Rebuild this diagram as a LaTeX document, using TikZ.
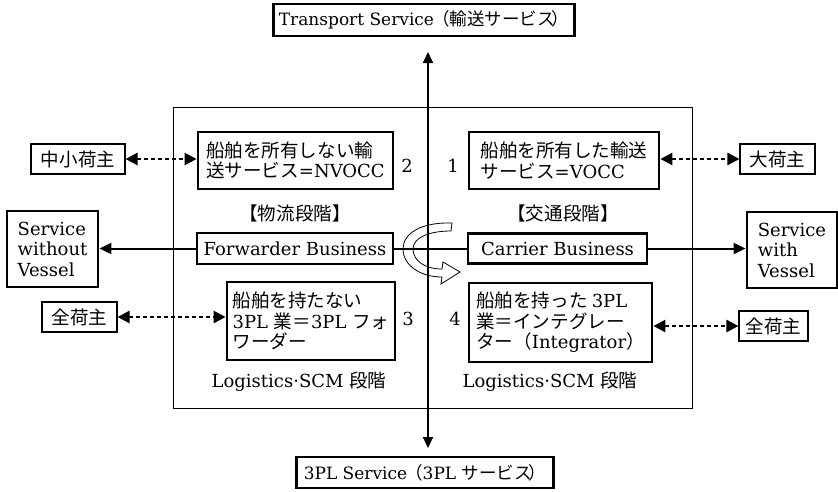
\documentclass[tikz,border=0pt]{standalone}
\usepackage{fontspec}
\setmainfont{DejaVu Serif}
\newfontfamily\jp[Scale=1.03]{Noto Sans CJK JP}
\usetikzlibrary{arrows.meta}
\begin{document}
\begin{tikzpicture}[x=1pt,y=-1pt,
  every node/.style={font=\fontsize{18}{20.5}\selectfont, inner sep=0pt},
  heavybox/.style={draw, line width=2.8pt, align=left},
  lightbox/.style={draw, line width=1.1pt},
  titlebox/.style={heavybox, font=\fontsize{17}{20}\selectfont, inner xsep=5pt},
  dotarrow/.style={{Triangle[length=12pt,width=12pt]}-{Triangle[length=12pt,width=12pt]},
    line width=2.6pt, dash pattern=on 4pt off 3pt},
  solidarrow/.style={-{Triangle[length=12pt,width=11pt]}, line width=2pt},
  axisarrow/.style={{Triangle[length=11pt,width=10pt]}-{Triangle[length=11pt,width=10pt]}, line width=2pt}]
\useasboundingbox (0,0) rectangle (838,491);

% outer frame
\draw[line width=0.9pt] (173,107) rectangle (692,408);

% top and bottom services
\node[titlebox, minimum height=32pt] (tsvc) at (424,20)
  {Transport Service\hspace{-2pt}{\jp （輸送サービス\hspace{-3pt}）}};
\node[titlebox, inner xsep=7pt, minimum height=31pt] (psvc) at (425,472.5)
  {3PL Service\hspace{-2pt}{\jp （}3PL {\jp サービス\hspace{-3pt}）}};

% vertical axis
\coordinate (axt) at (428,52);
\coordinate (axb) at (428,448);
\draw[axisarrow] (axb) -- (axt);

% upper quadrant boxes
\node[heavybox, minimum width=195pt, minimum height=57pt] (nvocc) at (295.5,160.5)
  {{\jp 船舶を所有しない輸}\\{\jp 送サービス}=NVOCC};
\node[heavybox, minimum width=190pt, minimum height=57pt] (vocc) at (564,160.5)
  {{\jp 船舶を所有した輸送}\\{\jp サービス}=VOCC};
\node (n2) at (407,166) {2};
\node (n1) at (453,166) {1};

% shippers
\node[lightbox, minimum width=94pt, minimum height=30pt] (chu) at (78,159) {\jp 中小荷主};
\node[lightbox, minimum width=75pt, minimum height=30pt] (dai) at (777.5,159) {\jp 大荷主};
\draw[dotarrow] (chu.east) -- (chu.east -| nvocc.west);
\draw[dotarrow] (vocc.east |- dai.west) -- (dai.west);

% stage labels
\node (st1) at (295,213) {\jp 【物流段階】};
\node (st2) at (563,213) {\jp 【交通段階】};

% business line
\node[heavybox, minimum width=196pt, minimum height=31pt] (fwd) at (295,248.5) {Forwarder Business};
\node[heavybox, minimum width=179pt, minimum height=30pt] (car) at (557.5,248.5) {Carrier Business};
\draw[line width=2pt] (fwd.east) -- (car.west);

\node[heavybox, minimum width=91pt, minimum height=76pt] (swo) at (52.5,249) {Service\\without\\Vessel};
\node[heavybox, minimum width=90pt, minimum height=76pt] (sw) at (792,250) {Service\\with\\Vessel};
\draw[solidarrow] (fwd.west) -- (fwd.west -| swo.east);
\draw[solidarrow] (car.east) -- (car.east -| sw.west);

% turning arrow between the two businesses
\draw[line width=0.8pt]
  (452,223) .. controls (420,222) and (403,234) .. (403,249)
  .. controls (403,265) and (420,277) .. (442,277)
  -- (441,284) -- (460,272) -- (443,262) -- (442,269)
  .. controls (424,269) and (413,260) .. (413,249)
  .. controls (413,238) and (428,231) .. (451,231) -- cycle;

% lower quadrant boxes
\node[heavybox, minimum width=168pt, minimum height=78pt] (lbox) at (311,321)
  {{\jp 船舶を持たない}\\3PL {\jp 業＝}3PL {\jp フォ}\\{\jp ワーダー}};
\node[heavybox, minimum width=183pt, minimum height=79pt] (rbox) at (560.5,322.5)
  {{\jp 船舶を持った }3PL\\{\jp 業＝インテグレー}\\{\jp ター（}Integrator{\jp ）}};
\node (n3) at (408,319) {3};
\node (n4) at (455,319) {4};

\node[lightbox, minimum width=75pt, minimum height=30pt] (zen1) at (79.5,317) {\jp 全荷主};
\node[lightbox, minimum width=69pt, minimum height=30pt] (zen2) at (773.5,326) {\jp 全荷主};
\draw[dotarrow] (zen1.east) -- (zen1.east -| lbox.west);
\draw[dotarrow] (rbox.east |- zen2.west) -- (zen2.west);

\node (scm1) at (299,382) {Logistics·SCM {\jp 段階}};
\node (scm2) at (550,382) {Logistics·SCM {\jp 段階}};
\end{tikzpicture}
\end{document}
